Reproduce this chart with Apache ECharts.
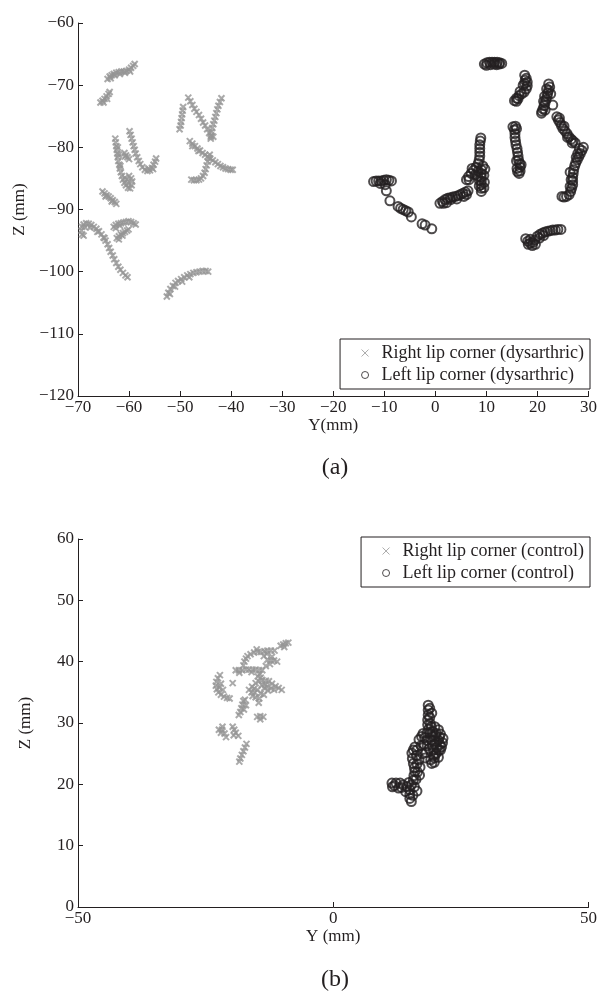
<!DOCTYPE html>
<html>
<head>
<meta charset="utf-8">
<script src="https://cdn.jsdelivr.net/npm/echarts@6/dist/echarts.min.js"></script>
<style>
html,body{margin:0;padding:0;background:#fff;}
#main{width:600px;height:996px;}
</style>
</head>
<body>
<div id="main"></div>
<script>
// (a) dysarthric speaker, points are [Y, Z] in mm
var rightDys = [
    // top curl
    [-64.2,-69.0],[-63.8,-68.6],[-63.4,-68.4],[-63.0,-68.2],[-62.5,-68.0],[-62.0,-67.9],[-61.5,-67.8],[-61.0,-67.8],[-60.5,-67.7],[-60.0,-67.5],[-59.6,-67.2],[-59.2,-66.9],[-58.9,-66.6],[-63.6,-68.9],[-62.8,-68.4],[-61.8,-68.2],[-60.8,-68.0],[-59.8,-67.8],
    [-65.6,-72.8],[-65.2,-72.5],[-64.8,-72.2],[-64.4,-71.8],[-64.0,-71.4],[-63.8,-71.1],[-65.0,-72.8],[-64.3,-72.2],
    // long vertical with blob
    [-62.7,-78.6],[-62.6,-79.2],[-62.5,-79.8],[-62.4,-80.4],[-62.3,-81.0],[-62.2,-81.6],[-62.1,-82.2],[-61.9,-82.8],[-61.8,-83.4],[-61.6,-84.0],[-61.4,-84.6],[-61.2,-85.2],[-60.9,-85.7],[-60.6,-86.1],[-60.2,-86.5],[-59.8,-86.6],[-59.5,-86.1],[-59.4,-85.5],[-59.6,-85.0],[-60.0,-84.6],[-60.4,-85.2],[-60.8,-84.9],[-60.2,-85.8],[-62.2,-80.0],[-62.0,-81.2],[-61.7,-83.0],
    [-59.9,-77.4],[-59.7,-78.0],[-59.5,-78.6],[-59.3,-79.2],[-59.1,-79.8],[-58.9,-80.4],[-58.7,-81.0],[-58.4,-81.6],[-58.1,-82.2],[-57.8,-82.7],[-57.4,-83.2],[-56.9,-83.6],[-56.4,-83.8],[-55.9,-83.7],[-55.5,-83.3],[-55.2,-82.8],[-54.9,-82.3],[-54.7,-81.8],[-55.3,-83.5],[-56.2,-83.4],
    [-60.9,-80.9],[-60.6,-81.3],[-60.3,-81.6],[-60.0,-81.9],[-60.8,-81.5],
    [-65.2,-87.1],[-64.8,-87.4],[-64.4,-87.7],[-64.0,-87.9],[-63.6,-88.2],[-63.2,-88.5],[-62.8,-88.8],[-62.5,-89.1],[-64.6,-87.9],[-63.4,-88.7],
    // S curve
    [-69.2,-94.0],[-69.3,-93.4],[-69.2,-92.8],[-68.9,-92.4],[-68.4,-92.2],[-67.9,-92.3],[-67.4,-92.5],[-66.9,-92.8],[-66.4,-93.1],[-65.9,-93.5],[-65.4,-94.0],[-65.0,-94.5],[-64.6,-95.0],[-64.2,-95.6],[-63.9,-96.2],[-63.6,-96.8],[-63.2,-97.4],[-62.9,-98.0],[-62.5,-98.6],[-62.1,-99.2],[-61.7,-99.7],[-61.2,-100.2],[-60.7,-100.6],[-60.3,-100.9],[-68.7,-92.8],[-67.6,-92.9],[-66.2,-93.6],[-64.8,-94.6],[-68.9,-94.2],
    [-63.0,-92.8],[-62.6,-92.5],[-62.1,-92.3],[-61.6,-92.2],[-61.1,-92.1],[-60.6,-92.0],[-60.1,-91.9],[-59.6,-92.0],[-59.1,-92.2],[-58.7,-92.4],[-62.6,-93.0],[-61.8,-92.6],
    [-62.4,-94.6],[-62.0,-94.3],[-61.6,-94.0],[-61.2,-93.8],[-60.8,-93.6],[-60.4,-93.4],[-60.1,-93.2],[-62.0,-94.8],[-61.3,-94.2],
    // bottom stroke
    [-52.6,-104.0],[-52.3,-103.4],[-51.9,-102.8],[-51.4,-102.3],[-50.9,-101.8],[-50.4,-101.5],[-49.8,-101.2],[-49.2,-100.9],[-48.6,-100.6],[-48.0,-100.4],[-47.4,-100.2],[-46.8,-100.1],[-46.2,-100.0],[-45.6,-99.9],[-45.0,-99.9],[-44.5,-100.0],[-52.0,-103.6],[-51.0,-102.4],[-49.6,-101.6],[-48.2,-100.9],
    // right group
    [-49.4,-73.5],[-49.5,-74.1],[-49.6,-74.7],[-49.7,-75.3],[-49.8,-75.9],[-49.9,-76.5],[-50.1,-77.1],
    [-48.4,-72.0],[-48.0,-72.6],[-47.6,-73.2],[-47.2,-73.8],[-46.8,-74.3],[-46.3,-74.8],[-45.9,-75.4],[-45.5,-76.0],[-45.1,-76.5],[-44.7,-77.1],[-44.3,-77.7],[-44.0,-78.3],
    [-41.9,-72.1],[-42.2,-72.7],[-42.5,-73.3],[-42.7,-73.9],[-42.9,-74.5],[-43.1,-75.1],[-43.3,-75.7],[-43.5,-76.3],[-43.7,-76.9],[-43.8,-77.5],[-43.9,-78.1],[-44.0,-78.6],[-43.5,-78.3],
    [-48.1,-79.0],[-47.6,-79.4],[-47.1,-79.8],[-46.6,-80.2],[-46.1,-80.5],[-45.6,-80.9],[-45.1,-81.2],[-44.6,-81.5],[-44.1,-81.8],[-43.6,-82.1],[-43.1,-82.4],[-42.6,-82.7],[-42.1,-83.0],[-41.6,-83.2],[-41.1,-83.4],[-40.6,-83.5],[-40.1,-83.6],[-39.7,-83.6],[-47.6,-79.8],[-46.4,-80.6],
    [-47.8,-85.2],[-47.3,-85.3],[-46.8,-85.3],[-46.3,-85.2],[-45.9,-85.0],[-45.5,-84.6],[-45.2,-84.1],[-45.0,-83.5],[-44.8,-82.9],[-44.6,-82.3],[-44.4,-81.7],[-44.2,-81.2]
];
var leftDys = [
    [9.6,-66.6],[10.1,-66.4],[10.6,-66.3],[11.1,-66.3],[11.6,-66.3],[12.1,-66.3],[12.6,-66.4],[13.0,-66.5],[10.0,-66.8],[11.5,-66.6],[12.5,-66.6],[10.8,-66.7],[12.0,-66.7],
    [17.5,-68.4],[17.8,-68.9],[18.0,-69.5],[18.0,-70.1],[17.8,-70.6],[17.4,-71.1],[16.9,-71.4],[16.4,-71.7],[15.9,-72.1],[15.5,-72.5],[17.6,-69.2],[16.2,-72.2],[17.2,-70.0],[16.6,-71.0],[17.5,-69.7],[15.9,-72.6],
    [22.2,-69.8],[22.4,-70.3],[22.2,-70.8],[22.0,-71.3],[21.9,-71.8],[21.7,-72.3],[21.5,-72.8],[21.3,-73.3],[21.1,-73.8],[20.9,-74.2],[20.8,-74.5],[23.0,-73.2],[22.6,-71.4],[21.5,-74.0],[21.2,-72.6],[21.8,-70.6],[21.4,-71.8],
    [23.8,-75.1],[24.1,-75.6],[24.4,-76.0],[24.7,-76.5],[25.0,-77.0],[25.4,-77.4],[25.8,-77.8],[26.2,-78.3],[26.6,-78.7],[27.0,-79.0],[27.4,-79.3],[24.3,-75.3],[25.2,-76.6],[25.9,-78.4],[26.8,-79.3],
    [29.0,-80.0],[28.7,-80.5],[28.4,-81.0],[28.1,-81.5],[27.8,-82.0],[27.5,-82.5],[27.3,-83.0],[27.1,-83.6],[27.0,-84.2],[26.9,-84.8],[26.9,-85.4],[26.9,-86.0],[26.7,-86.6],[26.5,-87.1],[26.2,-87.6],[25.7,-87.9],[25.2,-88.0],[24.8,-87.9],[28.2,-80.2],[27.9,-81.0],[26.4,-84.0],[26.6,-85.2],[27.6,-81.6],[26.4,-86.3],
    [15.2,-76.7],[15.5,-77.2],[15.6,-77.8],[15.6,-78.4],[15.7,-79.0],[15.8,-79.6],[16.0,-80.2],[16.1,-80.8],[16.2,-81.4],[16.3,-82.0],[16.5,-82.6],[16.6,-83.2],[16.6,-83.8],[16.4,-84.2],[15.9,-77.0],[16.8,-82.8],[16.0,-83.4],[15.9,-82.2],[15.7,-76.6],[16.1,-83.9],
    [8.9,-78.5],[8.8,-79.0],[8.7,-79.6],[8.7,-80.2],[8.7,-80.8],[8.7,-81.4],[8.6,-82.0],[8.4,-82.6],[8.0,-83.2],[7.5,-83.7],[7.0,-84.2],[6.5,-84.7],[6.1,-85.2],[9.0,-83.6],[9.0,-84.2],[9.0,-84.8],[9.0,-85.4],[9.0,-86.0],[9.0,-86.6],[9.0,-87.1],[9.7,-83.5],[9.5,-84.5],[8.4,-83.8],[7.8,-84.4],[9.6,-85.6],[9.5,-86.5],[8.3,-84.6],[7.2,-83.4],[6.6,-85.2],[8.6,-85.3],[8.6,-86.2],[9.3,-83.0],
    [0.9,-89.0],[1.4,-88.7],[1.9,-88.4],[2.4,-88.2],[2.9,-88.1],[3.4,-88.0],[3.9,-87.9],[4.4,-87.8],[4.9,-87.6],[5.4,-87.4],[5.9,-87.2],[6.4,-87.0],[1.6,-89.0],[3.0,-88.4],[5.6,-87.9],[6.1,-87.6],[4.2,-88.3],[2.2,-88.9],
    [-12.1,-85.5],[-11.6,-85.4],[-11.1,-85.4],[-10.6,-85.4],[-10.1,-85.3],[-9.6,-85.2],[-9.1,-85.3],[-8.6,-85.4],[-10.8,-85.8],[-9.8,-86.0],[-9.6,-87.0],[-8.9,-88.6],[-7.3,-89.5],[-6.8,-89.8],[-6.3,-90.0],[-5.8,-90.2],[-5.3,-90.4],[-4.7,-91.2],[-2.6,-92.3],[-2.0,-92.5],[-0.7,-93.1],
    [17.7,-94.7],[18.1,-95.1],[18.6,-95.4],[19.1,-95.3],[19.5,-94.9],[20.0,-94.3],[20.5,-94.0],[21.0,-93.8],[21.5,-93.6],[22.0,-93.5],[22.5,-93.4],[23.0,-93.3],[23.5,-93.3],[24.0,-93.2],[24.6,-93.2],[18.6,-94.8],[19.0,-95.8],[19.6,-95.6],[20.4,-94.6],[18.2,-95.6],[21.2,-94.2]
];
// (b) control speaker
var rightCtl = [
    [-10.3,42.6],[-9.8,42.8],[-9.3,43.0],[-8.8,43.1],[-9.6,42.4],
    [-19.1,38.6],[-18.5,38.6],[-17.8,38.6],[-17.1,38.7],[-16.5,38.7],[-15.8,38.7],[-15.2,38.7],[-14.5,38.6],[-13.9,38.6],[-17.6,39.4],[-17.4,40.0],[-17.1,40.5],[-16.8,40.9],[-16.2,41.2],[-15.5,41.5],[-14.8,41.6],[-14.2,41.6],[-13.5,41.7],[-12.9,41.8],[-12.2,41.8],[-11.5,41.8],[-13.6,40.9],[-12.9,40.3],[-12.2,40.2],[-11.6,40.2],[-11.0,40.0],[-12.4,39.6],[-13.2,39.3],[-18.4,38.2],[-16.0,38.3],[-15.0,42.0],[-13.0,41.3],[-12.0,40.8],
    [-16.5,35.4],[-15.9,35.9],[-15.2,36.5],[-14.6,36.8],[-13.9,37.0],[-13.2,36.9],[-12.6,36.8],[-12.0,36.4],[-11.3,36.0],[-10.7,35.7],[-10.1,35.4],[-15.8,34.4],[-15.2,34.2],[-14.5,34.0],[-14.8,37.6],[-14.4,38.0],[-13.5,35.7],[-14.8,35.4],[-14.2,34.8],[-15.4,35.0],[-13.0,35.9],[-12.2,35.6],[-11.6,35.4],[-14.0,36.2],[-14.6,33.3],[-13.6,34.6],[-16.0,35.0],[-14.2,37.4],[-13.4,36.3],[-15.5,35.6],[-12.8,35.3],
    [-22.6,37.3],[-22.9,36.7],[-23.0,36.1],[-22.8,35.5],[-22.5,35.0],[-22.0,34.6],[-21.4,34.3],[-20.8,34.1],[-20.3,34.0],[-22.0,36.4],[-21.6,35.4],[-19.7,36.5],[-22.2,37.8],[-22.3,35.8],
    [-17.6,33.6],[-17.8,33.0],[-18.0,32.4],[-18.2,31.8],[-18.5,31.3],[-17.1,32.9],[-17.3,33.8],[-17.5,32.2],
    [-14.9,31.0],[-14.3,31.1],[-13.7,31.0],[-14.3,30.6],
    [-22.4,28.9],[-21.8,28.9],[-21.3,28.3],[-21.0,27.7],[-21.7,29.4],[-22.0,28.4],
    [-19.7,29.4],[-19.4,28.9],[-19.1,28.4],[-18.6,27.9],[-19.5,28.0],
    [-17.0,26.6],[-17.3,26.0],[-17.6,25.4],[-17.9,24.8],[-18.2,24.2],[-18.4,23.7]
];
var leftCtl = [
    [18.6,32.9],[18.6,32.1],[18.6,31.3],[18.5,30.5],[18.5,29.7],[18.7,29.0],[18.9,28.3],[19.9,29.4],[20.6,28.9],[21.0,28.2],[21.5,27.5],[21.4,26.8],[21.2,26.1],[20.7,25.6],[20.2,25.1],[19.8,24.3],[19.3,23.4],[20.6,27.2],[19.6,24.6],[18.3,27.2],[17.3,27.8],[17.8,26.5],
    [18.9,32.4],[18.9,30.9],[19.0,29.9],[19.5,28.6],[20.2,28.3],[20.8,27.7],[20.9,26.5],[20.3,26.0],[19.6,25.6],[19.1,24.0],[19.8,23.6],[18.4,28.4],[17.9,27.6],[16.8,27.3],[17.2,26.3],[16.4,25.6],
    [16.0,26.1],[15.7,25.6],[15.4,25.1],[15.5,24.2],[15.7,23.4],[15.9,22.7],[16.0,22.1],[15.8,21.4],[15.7,20.7],[15.3,19.9],[15.0,19.1],[15.0,18.4],[15.0,17.7],[15.3,17.2],[14.4,19.6],[13.7,19.9],[13.1,20.2],[12.3,20.2],[11.5,20.2],[12.8,19.4],[11.6,19.6],[14.2,18.8],[16.4,18.9],[19.9,26.5],[20.0,28.0],[19.2,27.2],[18.8,25.8],[16.8,24.0],
    [16.3,24.7],[16.4,23.3],[16.5,22.0],[16.2,20.8],[15.9,19.6],[15.6,18.2],[14.8,20.3],[12.0,19.8],[13.4,19.5],
    [19.5,27.8],[20.3,27.0],[19.4,26.4],[20.0,24.9],[18.2,25.2],[17.5,25.0],[17.0,22.8],[16.9,21.5],[18.0,24.3],[18.4,26.3],[17.6,28.3],[19.3,31.6],[19.2,29.4],[21.0,25.6],[20.6,24.4]
];
var names = ['Right lip corner (dysarthric)', 'Left lip corner (dysarthric)', 'Right lip corner (control)', 'Left lip corner (control)'];

var ink = '#231f20';
var grey = '#959595';
var fontFamily = 'Liberation Serif';
var crossPath = 'path://M0,0L10,10M10,0L0,10';

function minus(v) {
    return String(v).replace('-', '\u2212');
}

function makeX(idx, min, max, interval, name) {
    return {
        type: 'value', gridIndex: idx, min: min, max: max, interval: interval,
        name: name, nameLocation: 'middle', nameGap: 20,
        nameTextStyle: {color: ink, fontFamily: fontFamily, fontSize: 17},
        axisLine: {show: true, onZero: false, lineStyle: {color: ink, width: 1}},
        axisTick: {inside: true, length: 5, lineStyle: {color: ink}},
        axisLabel: {color: ink, fontFamily: fontFamily, fontSize: 17, margin: 3, formatter: minus},
        splitLine: {show: false}
    };
}
function makeY(idx, min, max) {
    return {
        type: 'value', gridIndex: idx, min: min, max: max, interval: 10,
        name: 'Z (mm)', nameLocation: 'middle', nameGap: 44,
        nameTextStyle: {color: ink, fontFamily: fontFamily, fontSize: 17},
        axisLine: {show: true, onZero: false, lineStyle: {color: ink, width: 1}},
        axisTick: {inside: true, length: 5, lineStyle: {color: ink}},
        axisLabel: {color: ink, fontFamily: fontFamily, fontSize: 17, margin: 4, formatter: minus},
        splitLine: {show: false}
    };
}
function crossSeries(name, idx, data) {
    return {
        name: name, type: 'scatter', xAxisIndex: idx, yAxisIndex: idx, data: data,
        symbol: crossPath, symbolSize: 6, silent: true,
        itemStyle: {color: 'none', borderColor: grey, borderWidth: 2}
    };
}
function circleSeries(name, idx, data) {
    return {
        name: name, type: 'scatter', xAxisIndex: idx, yAxisIndex: idx, data: data,
        symbol: 'circle', symbolSize: 9, silent: true,
        itemStyle: {color: 'none', borderColor: ink, borderWidth: 2}
    };
}
function makeLegend(top, a, b) {
    return {
        orient: 'vertical', right: 10, top: top, padding: [5, 6, 5, 19],
        itemGap: 4, itemWidth: 7, itemHeight: 7,
        backgroundColor: '#fff', borderColor: ink, borderWidth: 1, borderRadius: 0,
        textStyle: {color: ink, fontFamily: fontFamily, fontSize: 18, padding: [0, 0, 0, 8]},
        data: [{name: a, icon: crossPath, itemStyle: {color: 'none', borderColor: grey, borderWidth: 1}},
               {name: b, icon: 'circle', itemStyle: {color: 'none', borderColor: ink, borderWidth: 1}}]
    };
}

var myChart = echarts.init(document.getElementById('main'), null, {renderer: 'canvas'});
var option = {
    backgroundColor: '#fff',
    animation: false,
    grid: [
        {left: 78, right: 9, top: 23, height: 373},
        {left: 78, right: 9, top: 539, height: 368}
    ],
    xAxis: [makeX(0, -70, 30, 10, 'Y(mm)'), makeX(1, -50, 50, 50, 'Y (mm)')],
    yAxis: [makeY(0, -120, -60), makeY(1, 0, 60)],
    legend: [makeLegend(339, names[0], names[1]), makeLegend(537, names[2], names[3])],
    graphic: [
        {type: 'text', x: 335, y: 468, style: {text: '(a)', fill: ink, font: '24px "Liberation Serif"', textAlign: 'center', textVerticalAlign: 'middle'}},
        {type: 'text', x: 335, y: 980, style: {text: '(b)', fill: ink, font: '24px "Liberation Serif"', textAlign: 'center', textVerticalAlign: 'middle'}}
    ],
    series: [
        crossSeries(names[0], 0, rightDys),
        circleSeries(names[1], 0, leftDys),
        crossSeries(names[2], 1, rightCtl),
        circleSeries(names[3], 1, leftCtl)
    ]
};
myChart.setOption(option);
</script>
</body>
</html>
